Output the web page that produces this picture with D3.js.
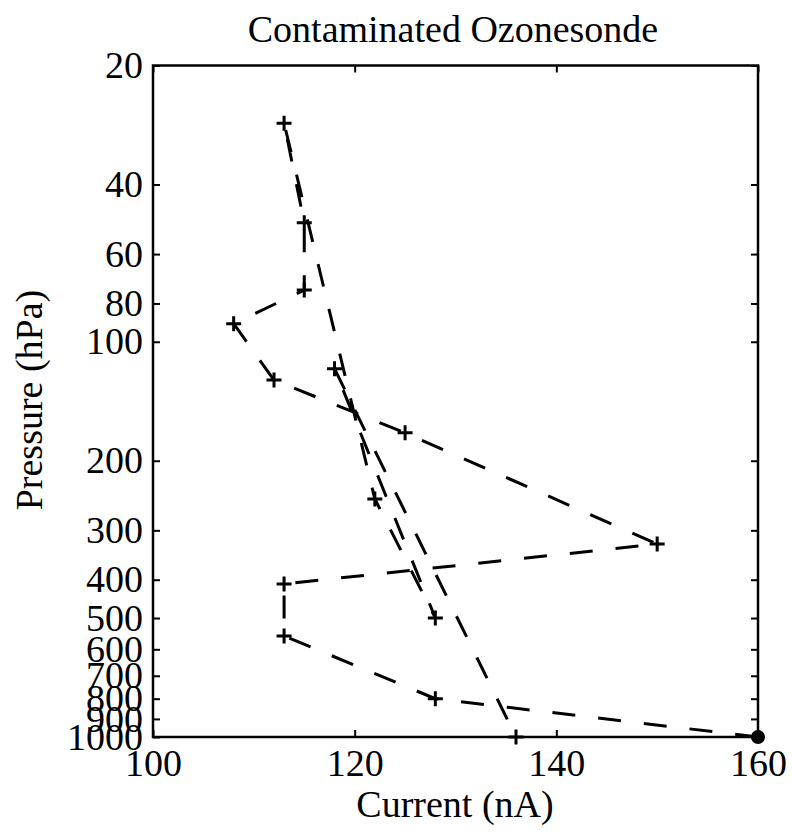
<!DOCTYPE html>
<html>
<head>
<meta charset="utf-8">
<script src="https://cdn.jsdelivr.net/npm/d3@7"></script>
<style>
  html, body { margin: 0; padding: 0; background: #fff; }
  svg { display: block; }
  text { font-family: "Liberation Serif", "Times New Roman", serif; fill: #000; }
</style>
</head>
<body>
<script>
// ---- data (path order as drawn) ----
const current  = [160, 128, 113, 113, 150, 125, 112, 108, 115, 115, 113, 122, 128, 118, 136];
const pressure = [1000, 800, 555, 410, 325, 170, 125, 90, 74, 50, 28, 250, 500, 117, 1000];
const xTicks = [100, 120, 140, 160];
const yTicks = [20, 40, 60, 80, 100, 200, 300, 400, 500, 600, 700, 800, 900, 1000];
const titleText = "Contaminated Ozonesonde";
const xLabel = "Current (nA)";
const yLabel = "Pressure (hPa)";

const W = 792, H = 832;
const m = { left: 153, right: 792 - 758, top: 65.5, bottom: 832 - 737 };
const iw = W - m.left - m.right, ih = H - m.top - m.bottom;

const svg = d3.select("body").append("svg").attr("width", W).attr("height", H);
const g = svg.append("g").attr("transform", `translate(${m.left},${m.top})`);

const x = d3.scaleLinear().domain([100, 160]).range([0, iw]);
const y = d3.scaleLog().domain([20, 1000]).range([0, ih]);

const fs = 38, tickLen = 7;

// frame
g.append("rect").attr("x", 0).attr("y", 0).attr("width", iw).attr("height", ih)
  .attr("fill", "none").attr("stroke", "#000").attr("stroke-width", 2.5);

// axes (inward ticks)
const axB = d3.axisBottom(x).tickValues(xTicks).tickSizeInner(-tickLen).tickSizeOuter(0).tickPadding(12).tickFormat(d3.format("d"));
const axT = d3.axisTop(x).tickValues(xTicks).tickSizeInner(-tickLen).tickSizeOuter(0).tickFormat("");
const axL = d3.axisLeft(y).tickValues(yTicks).tickSizeInner(-tickLen).tickSizeOuter(0).tickPadding(10).tickFormat(d3.format("d"));
const axR = d3.axisRight(y).tickValues(yTicks).tickSizeInner(-tickLen).tickSizeOuter(0).tickFormat("");

function style(sel) {
  sel.select(".domain").remove();
  sel.selectAll(".tick line").attr("stroke", "#000").attr("stroke-width", 2);
  sel.selectAll(".tick text").attr("font-size", fs).attr("fill", "#000")
     .style("font-family", '"Liberation Serif", serif');
}
g.append("g").attr("transform", `translate(0,${ih})`).call(axB).call(style);
g.append("g").call(axT).call(style);
g.append("g").call(axL).call(style);
g.append("g").attr("transform", `translate(${iw},0)`).call(axR).call(style);

// data line
const pts = current.map((c, i) => [c, pressure[i]]);
const line = d3.line().x(d => x(d[0])).y(d => y(d[1]));
g.append("path").datum(pts).attr("d", line)
  .attr("fill", "none").attr("stroke", "#000").attr("stroke-width", 3)
  .attr("stroke-dasharray", "23,23");

// plus markers
const ms = 7.5;
g.selectAll("path.plus").data(pts.slice(1)).enter().append("path").attr("class", "plus")
  .attr("d", d => `M${x(d[0]) - ms},${y(d[1])}H${x(d[0]) + ms}M${x(d[0])},${y(d[1]) - ms}V${y(d[1]) + ms}`)
  .attr("stroke", "#000").attr("stroke-width", 3).attr("fill", "none");

// filled circle at start point
g.append("circle").attr("cx", x(pts[0][0])).attr("cy", y(pts[0][1])).attr("r", 7).attr("fill", "#000");

// title and labels
svg.append("text").attr("x", 453).attr("y", 42).attr("text-anchor", "middle")
  .attr("font-size", fs).text(titleText);
svg.append("text").attr("x", 455).attr("y", 817).attr("text-anchor", "middle")
  .attr("font-size", fs).text(xLabel);
svg.append("text").attr("transform", "translate(42,400) rotate(-90)").attr("text-anchor", "middle")
  .attr("font-size", fs).text(yLabel);
</script>
</body>
</html>
